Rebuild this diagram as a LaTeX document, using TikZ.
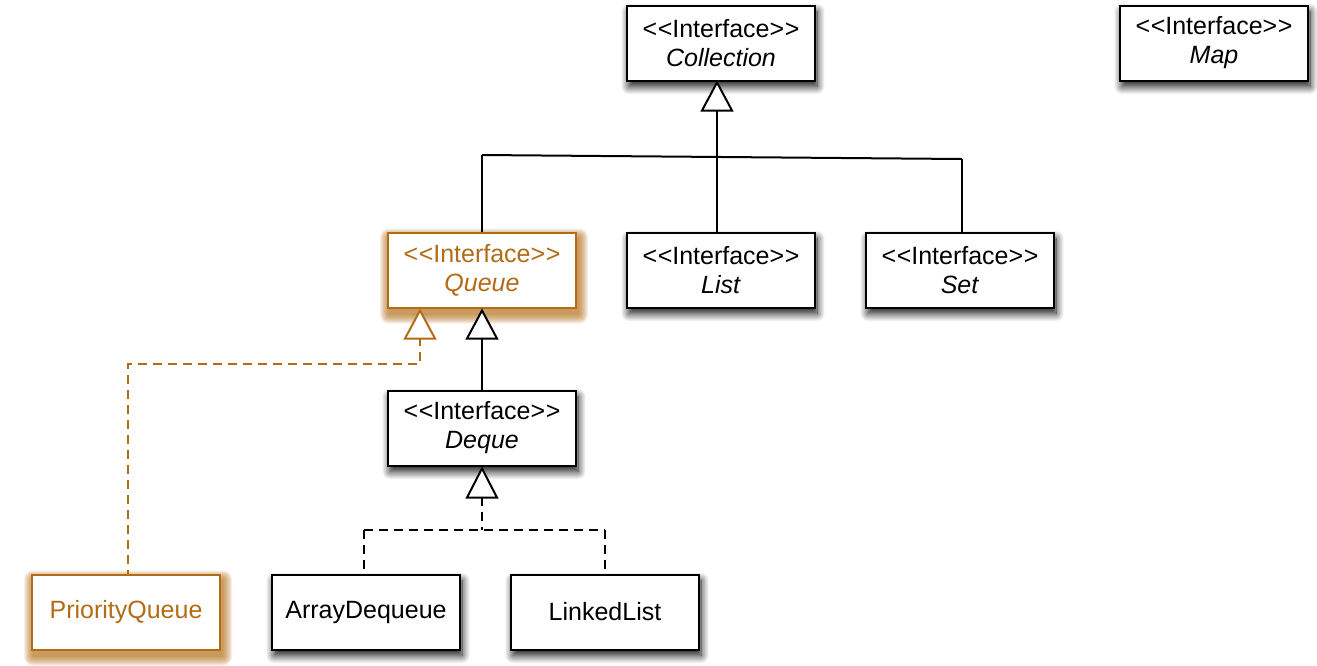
\documentclass[tikz,border=0pt]{standalone}
\usepackage{fontspec}
\setmainfont{Liberation Sans}
\usetikzlibrary{shadows.blur,backgrounds,calc}
\definecolor{qorange}{RGB}{178,108,22}
\newcommand{\iface}[1]{<\kern0.6pt<Interface>\kern0.6pt>\\\textit{#1}}
\tikzset{
  basebox/.style={draw=black, line width=2pt, fill=white, minimum width=188pt, minimum height=75pt,
    inner sep=0pt, align=center, font=\fontsize{25pt}{29pt}\selectfont},
  umlbox/.style={basebox,
    blur shadow={shadow xshift=2pt, shadow yshift=-6pt, shadow blur radius=8pt, shadow blur steps=14, shadow opacity=95}},
  orbox/.style={basebox, draw=qorange, text=qorange},
  conn/.style={line width=2pt},
  dconn/.style={line width=2pt, dash pattern=on 9pt off 6pt},
  tri/.style={draw=black, line width=2pt, fill=white, line join=miter},
}
\newcommand{\orshadow}[1]{%
  \foreach \r in {0,1,...,9}{%
    \fill[qorange, opacity=0.11, rounded corners=\r pt]
      ($(#1.south west)+(2-\r,6+\r)$) rectangle ($(#1.north east)+(2+\r,6-\r)$);
  }}
\begin{document}
\begin{tikzpicture}[x=1pt,y=-1pt]
\useasboundingbox (0,0) rectangle (1317,665);
% nodes
\node[umlbox] (coll) at (721,43) {\iface{Collection}};
\node[umlbox] (map) at (1214,43) {\iface{Map}};
\node[orbox] (queue) at (482,270) {\iface{Queue}};
\node[umlbox] (list) at (721,270) {\iface{List}};
\node[umlbox] (set) at (960,270) {\iface{Set}};
\node[umlbox] (deque) at (482,428) {\iface{Deque}};
\node[orbox] (pq) at (126,612) {PriorityQueue};
\node[umlbox] (ad) at (366,612) {ArrayDequeue};
\node[umlbox] (ll) at (605,612) {LinkedList};
\begin{pgfonlayer}{background}
\orshadow{queue}
\orshadow{pq}
\end{pgfonlayer}
% coordinates
\coordinate (jl) at (482,155);
\coordinate (jr) at (962,159);
\coordinate (ct) at (717,110);
\coordinate (qt) at (482,337);
\coordinate (pt) at (420,337);
\coordinate (p1) at (420,364);
\coordinate (p2) at (128,364);
\coordinate (dt) at (482,497);
\coordinate (d1) at (482,530);
\coordinate (dl) at (364,530);
\coordinate (dr) at (605,530);
% Collection generalization
\draw[conn] (jl) -- (jr);
\draw[conn] (ct) -- (list.north -| ct);
\draw[conn] (jl) -- (queue.north -| jl);
\draw[conn] (jr) -- (set.north -| jr);
\draw[tri] (coll.south -| ct) ++(0,1) -- ++(15,28) -- ++(-30,0) -- cycle;
% Deque -> Queue
\draw[conn] (qt) -- (deque.north -| qt);
\draw[tri] (queue.south -| qt) ++(0,2) -- ++(15,28) -- ++(-30,0) -- cycle;
% PriorityQueue realization
\draw[dconn, draw=qorange] (pt) -- (p1) -- (p2) -- (pq.north -| p2);
\draw[tri, draw=qorange] (queue.south -| pt) ++(0,2) -- ++(15,28) -- ++(-30,0) -- cycle;
% ArrayDequeue / LinkedList realization
\draw[dconn] (dt) -- (d1);
\draw[dconn] (dl) -- (dr);
\draw[dconn] (dl) -- (ad.north -| dl);
\draw[dconn] (dr) -- (ll.north -| dr);
\draw[tri] (deque.south -| dt) ++(0,2) -- ++(15,29) -- ++(-30,0) -- cycle;
\end{tikzpicture}
\end{document}
